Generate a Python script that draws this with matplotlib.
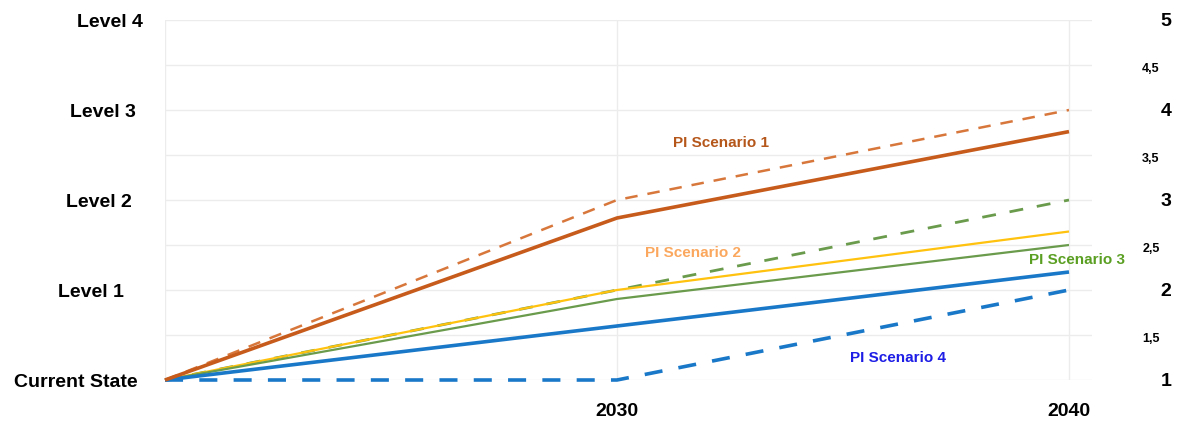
import numpy as np
import matplotlib.pyplot as plt
import matplotlib.transforms as mtransforms

plt.rcParams['font.family'] = ['Liberation Sans', 'DejaVu Sans']

# Maturity path per scenario: start, 2030, 2040
periods = ["", "2030", "2040"]
level_labels = ["Current State", "Level 1", "Level 2", "Level 3", "Level 4"]
level_values = [1, 2, 3, 4, 5]
right_ticks = [1, 1.5, 2, 2.5, 3, 3.5, 4, 4.5, 5]

s1_actual = [1, 2.8, 3.76]
s1_target = [1, 3, 4]
s2_actual = [1, 2, 2.65]
s3_actual = [1, 1.9, 2.5]
s3_target = [1, 2, 3]
s4_actual = [1, 1.6, 2.2]
s4_target = [1, 1, 2]

fig = plt.figure(figsize=(11.82, 4.24), dpi=100)
W, H = 1182, 424
ax = fig.add_axes([165 / W, 1 - 380 / H, (1092 - 165) / W, 360 / H])
x = np.arange(len(periods))
ax.set_xlim(0, (1092 - 165) / 452)
ax.set_ylim(1, 5)

# light grid
for v in np.arange(1, 5.01, 0.5):
    ax.axhline(v, color="#ececec", lw=1, zorder=0)
for xi in x:
    ax.axvline(xi, color="#ececec", lw=1, zorder=0)
for sp in ax.spines.values():
    sp.set_visible(False)
ax.set_xticks([])
ax.set_yticks([])

orange = "#c65b1c"
orange_l = "#d8773c"
green = "#6a9b4c"
yellow = "#ffc20e"
blue = "#1a78c8"

kw = dict(clip_on=False, solid_capstyle="butt", dash_capstyle="butt")
ax.plot(x, s3_target, color=green, lw=2.0, dashes=(5, 5), zorder=2, **kw)
ax.plot(x, s2_actual, color=yellow, lw=1.6, zorder=3, **kw)
ax.plot(x, s3_actual, color=green, lw=1.6, zorder=3, **kw)
ax.plot(x, s4_target, color=blue, lw=2.6, dashes=(5, 4.5), zorder=3, **kw)
ax.plot(x, s4_actual, color=blue, lw=2.6, zorder=4, **kw)
ax.plot(x, s1_target, color=orange_l, lw=1.8, dashes=(5, 4), zorder=3, **kw)
ax.plot(x, s1_actual, color=orange, lw=2.6, zorder=4, **kw)

# scenario labels
lab_kw = dict(fontsize=11, fontweight="bold", ha="center", va="center")
ax.text(1.230, 3.63, "PI Scenario 1", color="#b5561a", **lab_kw)
ax.text(1.168, 2.41, "PI Scenario 2", color="#fba85e", **lab_kw)
ax.text(2.018, 2.33, "PI Scenario 3", color="#5a9f22", **lab_kw)
ax.text(1.622, 1.25, "PI Scenario 4", color="#1d1de6", **lab_kw)

# left level labels (staggered right edges)
left_tr = mtransforms.blended_transform_factory(fig.transFigure, ax.transData)
left_edges = [138, 124, 132, 136, 143]
for lab, v, xr in zip(level_labels, level_values, left_edges):
    fig.text(xr / W, v - 0.025, lab, transform=left_tr, ha="right", va="center",
             fontsize=14, fontweight="bold")

# right numeric scale
for v in right_ticks:
    txt = f"{v:g}".replace(".", ",")
    if float(v).is_integer():
        fig.text(1166 / W, v - 0.02, txt, transform=left_tr, ha="center", va="center",
                 fontsize=14, fontweight="bold")
    else:
        fig.text(1151 / W, v - 0.04, txt, transform=left_tr, ha="center", va="center",
                 fontsize=9, fontweight="bold")

# period labels
bot_tr = mtransforms.blended_transform_factory(ax.transData, fig.transFigure)
for xi, lab in zip(x, periods):
    fig.text(xi, 1 - 412 / H, lab, transform=bot_tr, ha="center", va="center",
             fontsize=14, fontweight="bold")

fig.savefig("out.png", dpi=100)
